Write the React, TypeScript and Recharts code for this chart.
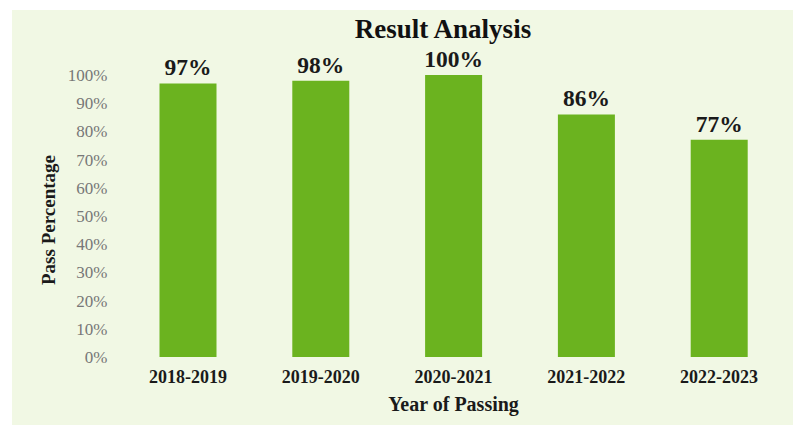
import { BarChart, Bar, XAxis, YAxis, LabelList, Label } from 'recharts';

const years = ['2018-2019', '2019-2020', '2020-2021', '2021-2022', '2022-2023'];
const passRates = [97, 98, 100, 86, 77];
const yTicks = [0, 10, 20, 30, 40, 50, 60, 70, 80, 90, 100];

const data = years.map((year, i) => ({ year, pass: passRates[i] }));

const serif = '"Liberation Serif", "Times New Roman", serif';

export default function App() {
  return (
    <div style={{ position: 'absolute', left: 0, top: 0, width: 793, height: 430, background: '#fff' }}>
      <div
        style={{
          position: 'absolute',
          left: 12,
          top: 10,
          right: 0,
          bottom: 5,
          background: '#f1f8e4',
        }}
      />
      <div
        style={{
          position: 'absolute',
          left: 0,
          width: 886,
          top: 13,
          textAlign: 'center',
          fontFamily: serif,
          fontWeight: 'bold',
          fontSize: 27,
          lineHeight: '32px',
          color: '#111',
        }}
      >
        Result Analysis
      </div>
      <BarChart
        width={793}
        height={430}
        data={data}
        margin={{ top: 75, right: 7.5, bottom: 43, left: 0 }}
        barSize={57}
        style={{ position: 'absolute', left: 0, top: 0 }}
      >
        <XAxis
          dataKey="year"
          axisLine={false}
          tickLine={false}
          tickSize={0}
          tickMargin={13}
          tick={{ fill: '#1a1a1a', fontFamily: serif, fontWeight: 'bold', fontSize: 18 }}
        >
          <Label
            value="Year of Passing"
            position="bottom"
            offset={10}
            style={{ fill: '#1a1a1a', fontFamily: serif, fontWeight: 'bold', fontSize: 20 }}
          />
        </XAxis>
        <YAxis
          width={121.5}
          domain={[0, 100]}
          ticks={yTicks}
          interval={0}
          axisLine={false}
          tickLine={false}
          tickSize={0}
          tickMargin={14}
          tickFormatter={(v: number) => `${v}%`}
          tick={{ fill: '#777', fontFamily: serif, fontSize: 17 }}
        >
          <Label
            content={(props: any) => {
              const vb = props.viewBox || { y: 75, height: 282 };
              const cy = vb.y + vb.height / 2 + 4;
              return (
                <text
                  x={48}
                  y={cy}
                  transform={`rotate(-90, 48, ${cy})`}
                  textAnchor="middle"
                  dominantBaseline="central"
                  style={{ fill: '#1a1a1a', fontFamily: serif, fontWeight: 'bold', fontSize: 19 }}
                >
                  Pass Percentage
                </text>
              );
            }}
          />
        </YAxis>
        <Bar dataKey="pass" fill="#6bb31f" isAnimationActive={false}>
          <LabelList
            dataKey="pass"
            position="top"
            offset={8}
            formatter={(v: any) => `${v}%`}
            style={{ fill: '#1a1a1a', fontFamily: serif, fontWeight: 'bold', fontSize: 23.5 }}
          />
        </Bar>
      </BarChart>
    </div>
  );
}
